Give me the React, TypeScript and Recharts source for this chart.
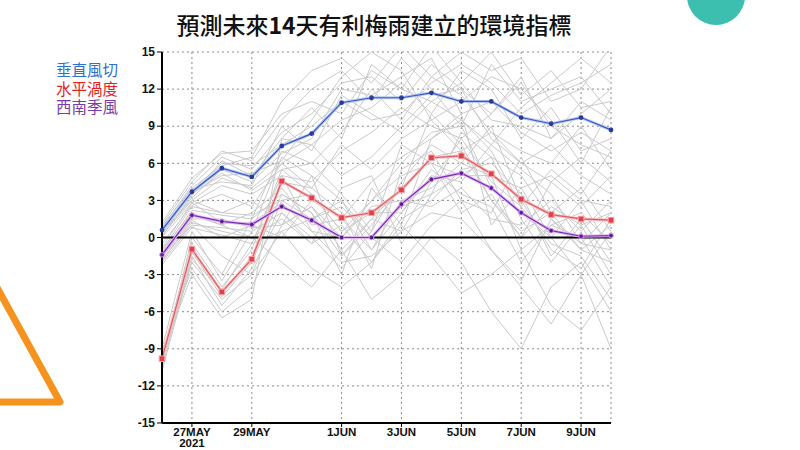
import React from 'react';
import { LineChart, Line, XAxis, YAxis, CartesianGrid, ReferenceLine } from 'recharts';

const days = [0, 1, 2, 3, 4, 5, 6, 7, 8, 9, 10, 11, 12, 13, 14, 15];
const xTicks = [1, 3, 6, 8, 10, 12, 14];
const xTickLabels = ['27MAY', '29MAY', '1JUN', '3JUN', '5JUN', '7JUN', '9JUN'];
const yTicks = [-15, -12, -9, -6, -3, 0, 3, 6, 9, 12, 15];

const shear = [0.6, 3.7, 5.6, 4.9, 7.4, 8.4, 10.9, 11.3, 11.3, 11.7, 11.0, 11.0, 9.7, 9.2, 9.7, 8.7];
const vorticity = [-9.8, -0.95, -4.4, -1.75, 4.55, 3.2, 1.6, 2.0, 3.85, 6.45, 6.6, 5.15, 3.1, 1.85, 1.5, 1.4];
const monsoon = [-1.4, 1.8, 1.3, 1.05, 2.5, 1.4, 0.0, 0.0, 2.7, 4.7, 5.2, 4.0, 2.0, 0.55, 0.1, 0.15];

const members: number[][] = [
  [0.8, 4.2, 6.5, 5.5, 8.5, 10, 12.5, 13, 11, 14, 12, 10, 13, 8, 11, 9.5],
  [0.2, 3.0, 4.8, 4.0, 6.0, 7.5, 9.5, 10.5, 12.5, 10, 13.5, 12, 8, 10.5, 7, 8],
  [1.0, 4.5, 7.0, 6.2, 9.5, 12, 13.5, 11, 14.5, 12, 9, 14, 11, 12, 13, 10],
  [0.4, 3.5, 5.2, 3.8, 5.5, 6.0, 8.5, 12, 9.5, 13, 11.5, 8.5, 7, 6, 9, 5.5],
  [0.6, 3.8, 6.0, 5.8, 7.5, 9, 11, 9.5, 10, 12.5, 14, 12.5, 10, 11.5, 12.5, 14],
  [0.0, 2.8, 4.2, 3.5, 5.0, 4.5, 7.0, 8.5, 10.5, 9, 8, 10, 12.5, 9, 7.5, 6.5],
  [1.2, 4.8, 6.8, 7.0, 10, 11, 10, 13.5, 12, 11, 12.5, 9.5, 9, 8, 10, 12],
  [0.3, 3.2, 5.5, 4.5, 6.8, 8, 12, 11.5, 13, 14.5, 10, 11, 8.5, 7, 8.5, 7],
  [0.9, 4.0, 5.8, 6.5, 11, 13.5, 14.5, 12.5, 15.5, 13, 15, 13.5, 14.5, 11, 12, 15.5],
  [0.1, 3.4, 6.2, 5.0, 8.0, 10.5, 8.0, 14, 12, 15.5, 12.5, 15, 11.5, 13.5, 10.5, 11],
  [0.7, 3.9, 4.5, 4.2, 9.0, 7.0, 11.5, 10, 8.5, 11, 9.5, 7.5, 10.5, 12.5, 14.5, 12.5],
  [0.5, 3.6, 5.0, 5.2, 6.2, 9.5, 13, 15, 13.5, 9.5, 11, 13, 12, 9.5, 6, 10.5],
  [-9.5, -0.5, -4.0, -1.0, 5.5, 3.5, 0.5, 3.0, 6.0, 8.5, 9, 4, 2, 0, 3, -1],
  [-10, -2.0, -5.0, -3.0, 3.0, 1.5, 3.0, -1.0, 2.0, 5.0, 4.5, 7.5, 5.5, 3.5, -0.5, 2],
  [-9.0, 0.5, -3.5, 0.5, 6.5, 5.0, -1.5, 1.5, 4.0, 10, 7.5, 3, 0, 4.5, 2.5, 5],
  [-10.5, -1.5, -5.5, -2.5, 2.0, -0.5, 4.0, 5.0, -0.5, 3.5, 8.5, 6.5, 1.5, -2, 1, -3],
  [-9.8, -0.8, -4.5, -1.5, 4.5, 4.0, 2.0, -2.5, 5.5, 7.0, 3, 2, 6.5, 2, 4, 0.5],
  [-9.2, -2.5, -6.0, -4.0, 1.0, 2.5, 0, 2.5, 3.0, 4.0, 6, 9, 3, -1, -2.5, 1.5],
  [-10.2, 0.0, -3.0, 1.5, 7.0, 6.0, 3.5, 0.5, 7.5, 6.0, 5, 5, -1, 1, 0, -4],
  [-9.6, -1.2, -4.8, -2.0, 3.5, 2.0, -3.0, 4.0, 1.0, 8.0, 10, 1, 4, 5, 3, 2.5],
  [-9.4, -3.0, -6.5, -5.0, 8.0, 7.5, 5.0, 6.5, 9.0, 11.5, 12, 8.0, 6.0, 7.5, 5.0, 3.5],
  [-10.8, -1.8, -4.2, -0.5, 5.0, 0.5, -2.0, -1.5, 0.5, 2.0, 1.5, -1.0, -3.5, 1.5, -1.0, -2.0],
  [-1.2, 2.2, 1.8, 1.5, 3.5, 2.0, -1.5, 1.0, 4.0, 6.5, 7, 3, 0.5, 2, -1, 1],
  [-1.8, 1.2, 0.5, 0.0, 1.5, -0.5, 1.0, -2.0, 1.5, 3.0, 5.5, 6.0, 3.5, -1.5, 1.5, -2],
  [-1.0, 2.5, 2.0, 1.8, 3.0, 3.5, 0.5, 2.0, 2.0, 5.5, 3.5, 2.5, -2.0, 1.0, 2.0, -0.5],
  [-2.0, 1.0, 0.8, 0.5, 2.0, 0.0, -2.5, 0.5, 4.5, 7.5, 6.0, 5.0, 4.0, 0.0, -3.0, 0.5],
  [-1.4, 1.8, 1.0, 2.0, 4.0, 1.0, 1.5, -1.0, 3.0, 2.5, 4.0, 1.5, 1.0, 3.0, 0.5, 3.0],
  [-1.6, 1.5, 1.5, 0.8, 1.0, 2.5, -1.0, 1.5, 0.5, 4.5, 8.0, 4.5, 2.5, -0.5, -1.5, -5],
  [-0.8, 2.8, 1.2, 1.2, 2.8, 0.5, 0.0, 3.0, 5.0, 6.0, 2.0, 3.5, 0.0, 2.5, 1.0, 2.0],
  [-2.2, 0.8, 0.2, -0.5, 0.5, 1.5, 2.5, 0.0, 2.5, 3.5, 5.0, 6.5, 5.0, 1.5, -0.5, -1.0],
  [-1.0, 2.0, 1.0, 0.0, -2.0, -4.0, -1.0, -5.0, -3.0, 0.0, -2.0, -6.0, -9.0, -4.0, -2.0, -6.0],
  [0.5, 3.0, 2.0, 3.0, 1.0, 5.0, 3.0, 0.0, -2.0, 1.0, 3.0, -1.0, -4.0, -7.0, -3.0, -9.0],
  [-1.5, 1.0, -1.5, -3.0, 0.5, -2.5, -4.0, -2.0, 1.0, -1.5, -4.5, -3.0, -1.0, -5.5, -7.5, -4.0],
  [-0.5, 2.6, 3.5, 2.5, 6.0, 4.0, 7.5, 5.5, 8.0, 9.5, 7.0, 8.5, 6.0, 4.5, 6.5, 4.5],
  [-1.9, 1.4, 0.0, 1.0, 0.0, 3.0, 1.5, 4.5, 6.5, 8.0, 9.5, 7.0, 2.5, 5.5, 3.5, 7.0],
];

const data = days.map((d, i) => {
  const row: Record<string, number> = { day: d, shear: shear[i], vorticity: vorticity[i], monsoon: monsoon[i] };
  members.forEach((m, k) => { row['m' + k] = m[i]; });
  return row;
});

const tickFont = "'Liberation Sans Narrow', 'Liberation Sans', Arial, sans-serif";

const XTick = (props: any) => {
  const { x, y, payload } = props;
  const idx = xTicks.indexOf(payload.value);
  const label = idx >= 0 ? xTickLabels[idx] : '';
  return (
    <g>
      <text x={x} y={y + 7} textAnchor="middle" fontFamily={tickFont} fontWeight="bold" fontSize={11.5} fill="#111">{label}</text>
      {idx === 0 && (
        <text x={x} y={y + 17.5} textAnchor="middle" fontFamily={tickFont} fontWeight="bold" fontSize={11.5} fill="#111">2021</text>
      )}
    </g>
  );
};

const SquareDot = (props: any) => {
  const { cx, cy } = props;
  if (cx == null || cy == null) return null;
  return <rect x={cx - 2.8} y={cy - 2.8} width={5.6} height={5.6} fill="#e0404a" stroke="#f8a0a8" strokeWidth={1} />;
};

export default function App() {
  return (
    <div style={{ position: 'absolute', left: 0, top: 0, width: 800, height: 450, background: '#fff', overflow: 'hidden' }}>
      <svg width={800} height={450} style={{ position: 'absolute', left: 0, top: 0 }}>
        <circle cx={716} cy={-4} r={29} fill="#3cbfae" />
        <polyline points="-6,282 60,402 -6,402" fill="none" stroke="#f5931e" strokeWidth={7} strokeLinejoin="round" strokeLinecap="round" />
      </svg>
      <div style={{ position: 'absolute', left: 0, top: 9, width: 748, textAlign: 'center', fontFamily: "'Noto Sans CJK TC', sans-serif", fontSize: 23, fontWeight: 500, color: '#111', lineHeight: '30px' }}>
        預測未來<span style={{ fontWeight: 700 }}>14</span>天有利梅雨建立的環境指標
      </div>
      <div style={{ position: 'absolute', left: 56, top: 60, fontFamily: "'Noto Sans CJK TC', sans-serif", fontSize: 15.5, lineHeight: '18.5px' }}>
        <div style={{ color: '#2f6fd0', height: 18.5 }}>垂直風切</div>
        <div style={{ color: '#e3241c', height: 18.5 }}>水平渦度</div>
        <div style={{ color: '#7a3aa8', height: 18.5 }}>西南季風</div>
      </div>
      <div style={{ position: 'absolute', left: 0, top: 0 }}>
        <LineChart width={800} height={450} data={data} margin={{ top: 52, right: 189, bottom: 0, left: 118 }}>
          <CartesianGrid stroke="#8a8a8a" strokeDasharray="2 3" strokeWidth={1} />
          <XAxis dataKey="day" type="number" domain={[0, 15]} ticks={xTicks} interval={0} height={27}
            axisLine={{ stroke: '#000', strokeWidth: 2 }} tickLine={{ stroke: '#000' }} tickSize={4} tick={<XTick />} />
          <XAxis xAxisId="top" orientation="top" dataKey="day" type="number" domain={[0, 15]} height={0}
            tick={false} tickLine={false} axisLine={{ stroke: '#000', strokeWidth: 2 }} />
          <YAxis type="number" domain={[-15, 15]} ticks={yTicks} interval={0} width={44} allowDataOverflow
            axisLine={{ stroke: '#000', strokeWidth: 2 }} tickLine={{ stroke: '#000' }} tickSize={5}
            tick={{ fontFamily: tickFont, fontWeight: 'bold', fontSize: 12, fill: '#111' }} />
          <YAxis yAxisId="right" orientation="right" type="number" domain={[-15, 15]} width={0}
            tick={false} tickLine={false} axisLine={{ stroke: '#000', strokeWidth: 2 }} />
          {members.map((_, k) => (
            <Line key={k} dataKey={'m' + k} stroke="#cacaca" strokeWidth={1} dot={false} isAnimationActive={false} />
          ))}
          <ReferenceLine y={0} stroke="#000" strokeWidth={2} />
          <Line dataKey="shear" stroke="#b8c8f0" strokeWidth={3} dot={false} isAnimationActive={false} />
          <Line dataKey="shear" stroke="#3a58c8" strokeWidth={1.2} dot={{ r: 1.8, fill: '#2a3a9a', stroke: '#2a3a9a' }} isAnimationActive={false} />
          <Line dataKey="vorticity" stroke="#f8c0c4" strokeWidth={3} dot={false} isAnimationActive={false} />
          <Line dataKey="vorticity" stroke="#e05a5e" strokeWidth={1.2} dot={<SquareDot />} isAnimationActive={false} />
          <Line dataKey="monsoon" stroke="#e0b8f0" strokeWidth={3} dot={false} isAnimationActive={false} />
          <Line dataKey="monsoon" stroke="#7a2ab8" strokeWidth={1.2} dot={{ r: 2.3, fill: '#5a1a90', stroke: '#d090f0', strokeWidth: 1 }} isAnimationActive={false} />
        </LineChart>
      </div>
    </div>
  );
}
